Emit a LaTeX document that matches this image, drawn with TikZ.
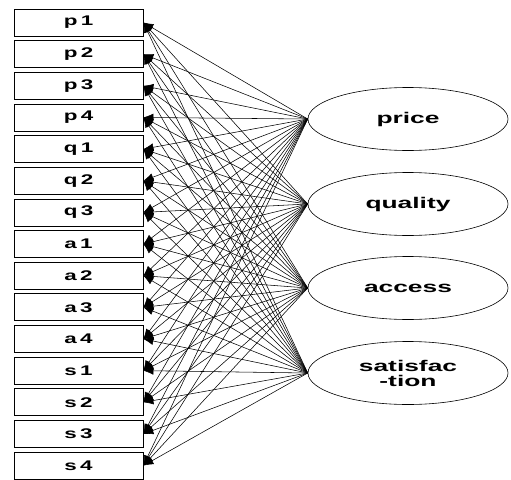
\documentclass[tikz,border=0pt]{standalone}
\usepackage{fontspec}
\setmainfont{Liberation Sans}
\newfontfamily\boxfont[LetterSpace=15]{Liberation Sans}
\usetikzlibrary{arrows.meta,shapes.geometric}
\newcommand{\wid}[2]{\scalebox{#1}[1]{#2}}
\begin{document}
\begin{tikzpicture}[x=1pt,y=-1pt,
  obs/.style={draw,line width=0.8pt,minimum width=129pt,minimum height=27pt,inner sep=0pt,font=\boxfont\bfseries\fontsize{14}{14}\selectfont},
  lat/.style={draw,ellipse,line width=0.6pt,minimum width=200pt,minimum height=63pt,inner sep=0pt,align=center,font=\bfseries\fontsize{15.5}{15}\selectfont},
  load/.style={line width=0.55pt,-{Latex[length=10pt,width=8pt]}}]
\useasboundingbox (0,0) rectangle (511,479);
\foreach \n [count=\i from 0] in {p1,p2,p3,p4,q1,q2,q3,a1,a2,a3,a4,s1,s2,s3,s4}
  \node[obs] (\n) at (78.5,{22.5+\i*31.65}) {\wid{1.6}{\n}};
\node[lat] (price) at (408,119) {\wid{1.7}{price}};
\node[lat] (quality) at (408,204) {\wid{1.7}{quality}};
\node[lat] (access) at (408,288) {\wid{1.7}{access}};
\node[lat] (sat) at (408,373) {\wid{1.7}{satisfac}\\\wid{1.7}{-tion}};
\foreach \f in {price,quality,access,sat}
  \foreach \n in {p1,p2,p3,p4,q1,q2,q3,a1,a2,a3,a4,s1,s2,s3,s4}
    \draw[load] (\f.west) -- (\n.east);
\end{tikzpicture}
\end{document}
